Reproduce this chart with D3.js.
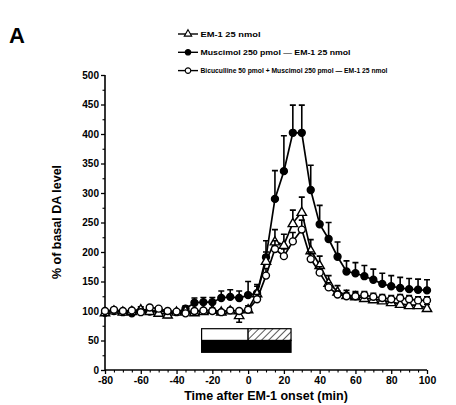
<!DOCTYPE html>
<html><head><meta charset="utf-8">
<script src="https://cdn.jsdelivr.net/npm/d3@7/dist/d3.min.js"></script>
<style>body{margin:0;background:#fff}svg{display:block}text{font-family:"Liberation Sans",Arial,sans-serif;font-weight:bold;fill:#000}</style>
</head><body><svg id="c" width="456" height="405"></svg>
<script>
const times = [-80,-75,-70,-65,-60,-55,-50,-45,-40,-35,-30,-25,-20,-15,-10,-5,0,5,10,15,20,25,30,35,40,45,50,55,60,65,70,75,80,85,90,95,100];
const em1 = [98,101,99,100,103,100,97,94,99,101,98,100,102,99,101,93,103,130,185,218,212,249,268,203,178,148,133,127,125,122,120,118,115,112,110,110,105];
const em1Err = [3,3,3,3,4,3,3,-5,3,3,3,3,3,3,4,-12,6,12,15,20,18,22,25,18,15,12,10,8,8,8,7,7,7,7,7,7,6];
const mus = [97,100,98,96,100,99,101,98,98,104,114,115,115,122,124,122,127,130,191,290,337,402,402,305,247,222,192,167,164,159,153,146,142,139,137,136,135];
const musErr = [3,3,3,3,3,3,3,3,4,5,8,8,8,12,12,12,23,15,28,48,60,47,47,42,32,28,25,18,18,18,18,18,18,18,18,18,18];
const bic = [100,102,100,101,98,106,104,100,99,96,100,101,100,98,101,100,102,120,160,205,193,218,238,188,165,140,128,125,125,127,124,122,120,122,120,118,118];
const bicErr = [2,2,2,2,2,3,3,2,2,3,2,2,2,2,2,3,4,8,12,14,12,15,16,12,10,8,6,6,6,6,6,6,6,6,6,6,6];
const legendLabels = ["EM-1 25 nmol","Muscimol 250 pmol \u2014 EM-1 25 nmol","Bicuculline 50 pmol + Muscimol 250 pmol \u2014 EM-1 25 nmol"];
const xTicks = [-80,-60,-40,-20,0,20,40,60,80,100];
const yTicks = [0,50,100,150,200,250,300,350,400,450,500];
const barStarts = [-26,0,-26];
const barEnds = [0,24,24];
const barLows = [50,50,30];
const barHighs = [70,70,50];

const svg = d3.select("#c");
const x = d3.scaleLinear().domain([-80,100]).range([105,427]);
const y = d3.scaleLinear().domain([0,500]).range([370,75]);
const fmt = d => String(d);

// hatch pattern
const defs = svg.append("defs");
const pat = defs.append("pattern").attr("id","hatch").attr("patternUnits","userSpaceOnUse")
  .attr("width",5).attr("height",5).attr("patternTransform","rotate(45)");
pat.append("rect").attr("width",5).attr("height",5).attr("fill","#fff");
pat.append("line").attr("x1",0).attr("y1",0).attr("x2",0).attr("y2",5).attr("stroke","#000").attr("stroke-width",1.3);

// axes
const yAxis = d3.axisLeft(y).tickValues(yTicks).tickFormat(fmt).tickSize(4).tickPadding(2);
const gy = svg.append("g").attr("transform",`translate(${x(-80)},0)`).call(yAxis);
gy.select(".domain").attr("stroke-width",1.6).attr("d",`M-0,${y(0)}V${y(500)}`);
gy.selectAll("line").attr("stroke-width",1.3);
gy.selectAll("text").attr("font-size",10).style("font-family","Liberation Sans, Arial").style("font-weight","bold");
const gym = svg.append("g").attr("transform",`translate(${x(-80)},0)`)
  .call(d3.axisLeft(y).tickValues(d3.range(25,500,50)).tickSize(2.5).tickFormat(""));
gym.select(".domain").remove();
gym.selectAll("line").attr("stroke-width",1.1);

const xAxis = d3.axisBottom(x).tickValues(xTicks).tickFormat(fmt).tickSize(4).tickPadding(3);
const gx = svg.append("g").attr("transform",`translate(0,${y(0)})`).call(xAxis);
gx.select(".domain").attr("stroke-width",1.6).attr("d",`M${x(-80)},0H${x(100)}`);
gx.selectAll("line").attr("stroke-width",1.3);
gx.selectAll("text").attr("font-size",10.5).style("font-family","Liberation Sans, Arial").style("font-weight","bold");
const gxm = svg.append("g").attr("transform",`translate(0,${y(0)})`)
  .call(d3.axisBottom(x).tickValues(d3.range(-75,100,5).filter(v=>v%20!==0)).tickSize(2.5).tickFormat(""));
gxm.select(".domain").remove();
gxm.selectAll("line").attr("stroke-width",1.1);

// axis titles
svg.append("text").attr("x",266).attr("y",400).attr("text-anchor","middle").attr("font-size",12.5).text("Time after EM-1 onset (min)");
svg.append("text").attr("transform",`translate(61,222) rotate(-90)`).attr("text-anchor","middle").attr("font-size",12.5).text("% of basal DA level");
svg.append("text").attr("x",9).attr("y",43).attr("font-size",22).text("A");

// bars
const barFills = ["#fff","url(#hatch)","#000"];
svg.append("g").selectAll("rect").data(barStarts).join("rect")
  .attr("x",(d,i)=>x(barStarts[i])).attr("width",(d,i)=>x(barEnds[i])-x(barStarts[i]))
  .attr("y",(d,i)=>y(barHighs[i])).attr("height",(d,i)=>y(barLows[i])-y(barHighs[i]))
  .attr("fill",(d,i)=>barFills[i]).attr("stroke","#000").attr("stroke-width",1.2);

// series
const series = [
  {vals:mus, err:musErr, shape:"circle", fill:"#000"},
  {vals:em1, err:em1Err, shape:"triangle", fill:"#fff"},
  {vals:bic, err:bicErr, shape:"circle", fill:"#fff"}
];
const line = d3.line().x((d,i)=>x(times[i])).y(d=>y(d));
series.forEach(s=>{
  const g = svg.append("g");
  g.selectAll("path.err").data(s.vals).join("path").attr("class","err")
    .attr("d",(d,i)=>{const xx=x(times[i]), y0=y(d), y1=y(d+s.err[i]);
      return `M${xx},${y0}V${y1}M${xx-3},${y1}H${xx+3}`;})
    .attr("stroke","#000").attr("stroke-width",1.6).attr("fill","none");
  g.append("path").attr("d",line(s.vals)).attr("fill","none").attr("stroke","#000").attr("stroke-width",1.7);
  const sym = d3.symbol().type(s.shape==="circle"?d3.symbolCircle:d3.symbolTriangle).size(s.shape==="circle"?38:38);
  g.selectAll("path.m").data(s.vals).join("path").attr("class","m")
    .attr("d",sym).attr("transform",(d,i)=>`translate(${x(times[i])},${y(d)+(s.shape==="triangle"?0.8:0)})`)
    .attr("fill",s.fill).attr("stroke","#000").attr("stroke-width",1.4);
});

// legend
const lg = svg.append("g");
const legShapes = [series[1],series[0],series[2]];
const widths=[60,150,187];
legendLabels.forEach((t,i)=>{
  const yy = 34 + i*18.3;
  lg.append("line").attr("x1",178).attr("x2",198).attr("y1",yy).attr("y2",yy).attr("stroke","#000").attr("stroke-width",1.4);
  const s = legShapes[i];
  const sym = d3.symbol().type(s.shape==="circle"?d3.symbolCircle:d3.symbolTriangle).size(24);
  lg.append("path").attr("d",sym()).attr("transform",`translate(188,${yy})`).attr("fill",s.fill).attr("stroke","#000").attr("stroke-width",1.1);
  lg.append("text").attr("x",200.5).attr("y",yy+2.8).attr("font-size",8).attr("textLength",widths[i]).attr("lengthAdjust","spacingAndGlyphs").text(t);
});
</script></body></html>
